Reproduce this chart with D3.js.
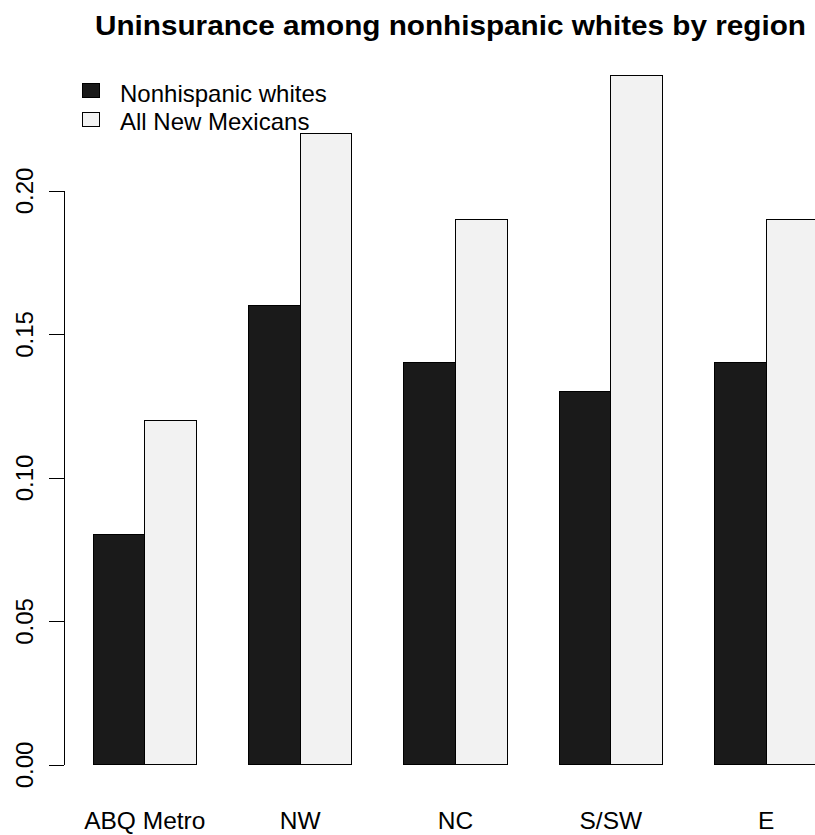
<!DOCTYPE html>
<html>
<head>
<meta charset="utf-8">
<script src="https://cdn.jsdelivr.net/npm/d3@7"></script>
<style>
  html, body { margin: 0; padding: 0; background: #fff; }
  svg { display: block; }
  text { font-family: "Liberation Sans", Arial, sans-serif; fill: #000; }
</style>
</head>
<body>
<svg id="chart" width="815" height="835"></svg>
<script>
const categories = ["ABQ Metro", "NW", "NC", "S/SW", "E"];
const seriesNames = ["Nonhispanic whites", "All New Mexicans"];
const nonhispanicWhites = [0.08, 0.16, 0.14, 0.13, 0.14];
const allNewMexicans = [0.12, 0.22, 0.19, 0.24, 0.19];
const yTicks = [0.00, 0.05, 0.10, 0.15, 0.20];
const seriesColors = ["#1a1a1a", "#f2f2f2"];
const title = "Uninsurance among nonhispanic whites by region";

const svg = d3.select("#chart");

// R barplot style: bars of width 1 with a gap of 1 between groups
const x = d3.scaleLinear().domain([0.44, 15.56]).range([64, 847]);
const y = d3.scaleLinear().domain([0, 0.20]).range([764.5, 190.5]);

const series = [nonhispanicWhites, allNewMexicans];
const bars = [];
categories.forEach((c, i) => {
  series.forEach((s, j) => {
    bars.push({ cat: c, j, value: s[i], x0: 1 + 3 * i + j });
  });
});

svg.append("g").selectAll("rect").data(bars).join("rect")
  .attr("x", d => x(d.x0))
  .attr("width", d => x(d.x0 + 1) - x(d.x0))
  .attr("y", d => y(d.value))
  .attr("height", d => y(0) - y(d.value))
  .attr("fill", d => seriesColors[d.j])
  .attr("stroke", "#000")
  .attr("stroke-width", 1)
  .attr("shape-rendering", "crispEdges");

// Y axis
const yAxis = d3.axisLeft(y).tickValues(yTicks).tickSize(15).tickFormat(d3.format(".2f"));
const gy = svg.append("g").attr("transform", "translate(64,0)").call(yAxis);
gy.select(".domain").remove();
gy.selectAll(".tick line").attr("stroke", "#000").attr("shape-rendering", "crispEdges");
gy.selectAll(".tick text")
  .attr("transform", "rotate(-90)")
  .attr("x", 0).attr("y", -31.5).attr("dy", 0)
  .attr("text-anchor", "middle")
  .style("font-size", "24px")
  .style("font-family", "Liberation Sans, Arial, sans-serif")
  .attr("fill", "#000");
svg.append("line")
  .attr("x1", 64).attr("x2", 64)
  .attr("y1", y(yTicks[0])).attr("y2", y(yTicks[yTicks.length - 1]))
  .attr("stroke", "#000").attr("shape-rendering", "crispEdges");

// X category labels
svg.append("g").selectAll("text").data(categories).join("text")
  .attr("x", (d, i) => x(2 + 3 * i))
  .attr("y", 829)
  .attr("text-anchor", "middle")
  .style("font-size", "24.5px")
  .text(d => d);

// Title
svg.append("text")
  .attr("x", 95)
  .attr("y", 35)
  .attr("text-anchor", "start")
  .attr("textLength", 711)
  .attr("lengthAdjust", "spacingAndGlyphs")
  .style("font-size", "28px")
  .style("font-weight", "bold")
  .text(title);

// Legend
const lg = svg.append("g");
seriesNames.forEach((name, j) => {
  const cy = 90 + 29.5 * j;
  lg.append("rect")
    .attr("x", 82).attr("y", cy - 7).attr("width", 17).attr("height", 14)
    .attr("fill", seriesColors[j]).attr("stroke", "#000")
    .attr("shape-rendering", "crispEdges");
  lg.append("text")
    .attr("x", 120).attr("y", 101.5 + 28.5 * j)
    .style("font-size", "24px")
    .text(name);
});
</script>
</body>
</html>
